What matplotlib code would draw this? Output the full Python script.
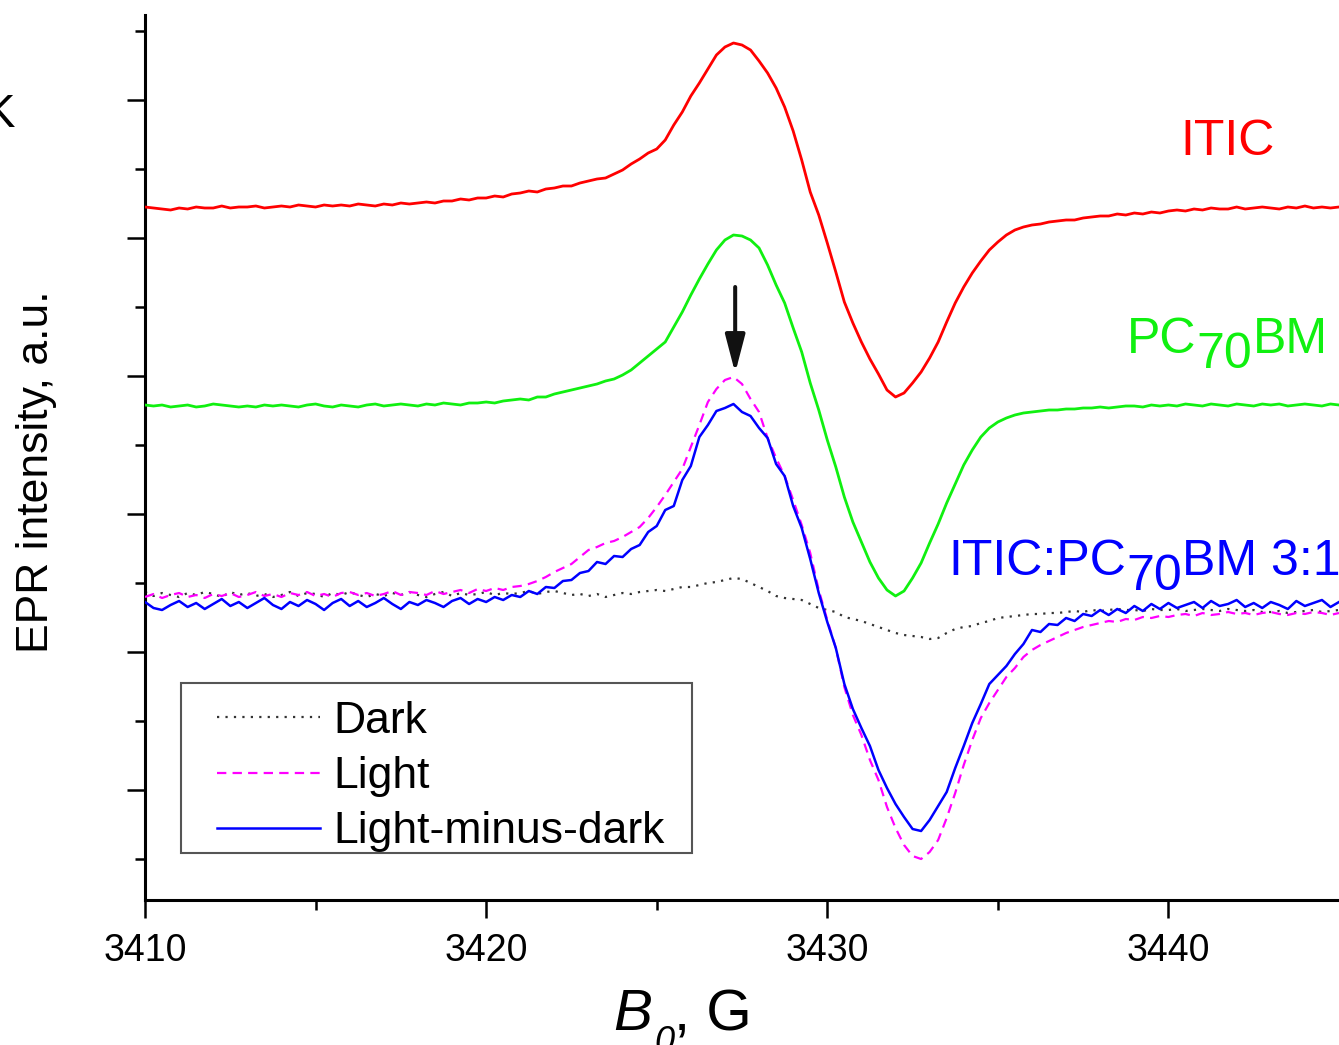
import numpy as np
import matplotlib
matplotlib.use("Agg")
import matplotlib.pyplot as plt
from matplotlib.ticker import FixedLocator, NullFormatter
from matplotlib.patches import Rectangle

plt.rcParams['font.family'] = ['Liberation Sans', 'DejaVu Sans']

# ---------------- data (field sweep, 0.25 G steps) ----------------
field = np.linspace(3410, 3445, 141)   # B0, G

itic = [
    721, 720, 719, 718,   # 3410
    720, 719, 721, 720,   # 3411
    720, 722, 720, 721,   # 3412
    721, 722, 720, 721,   # 3413
    722, 721, 723, 722,   # 3414
    721, 723, 722, 723,   # 3415
    722, 724, 723, 722,   # 3416
    724, 723, 725, 724,   # 3417
    725, 726, 725, 727,   # 3418
    727, 729, 728, 730,   # 3419
    730, 732, 731, 734,   # 3420
    735, 737, 736, 739,   # 3421
    740, 742, 742, 745,   # 3422
    747, 749, 750, 754,   # 3423
    758, 764, 769, 775,   # 3424
    779, 788, 803, 816,   # 3425
    832, 845, 859, 873,   # 3426
    881, 885, 883, 878,   # 3427
    867, 855, 840, 821,   # 3428
    797, 768, 736, 713,   # 3429
    685, 656, 626, 605,   # 3430
    586, 569, 554, 538,   # 3431
    531, 535, 545, 556,   # 3432
    570, 586, 606, 625,   # 3433
    641, 655, 667, 678,   # 3434
    686, 693, 698, 701,   # 3435
    703, 704, 706, 707,   # 3436
    708, 708, 710, 711,   # 3437
    712, 712, 714, 713,   # 3438
    715, 714, 716, 715,   # 3439
    717, 718, 717, 719,   # 3440
    718, 720, 719, 719,   # 3441
    721, 719, 720, 721,   # 3442
    720, 719, 721, 720,   # 3443
    722, 720, 721, 720,   # 3444
    721,                  # 3445
]

pc70bm = [
    523, 522, 523, 521,   # 3410
    522, 523, 521, 522,   # 3411
    524, 523, 522, 521,   # 3412
    522, 521, 523, 522,   # 3413
    523, 522, 521, 523,   # 3414
    524, 522, 521, 523,   # 3415
    522, 521, 523, 524,   # 3416
    522, 523, 524, 523,   # 3417
    522, 524, 523, 525,   # 3418
    524, 523, 525, 525,   # 3419
    526, 525, 527, 528,   # 3420
    529, 528, 531, 531,   # 3421
    534, 536, 538, 540,   # 3422
    542, 544, 547, 549,   # 3423
    553, 558, 565, 572,   # 3424
    579, 586, 601, 616,   # 3425
    633, 649, 664, 678,   # 3426
    688, 693, 692, 688,   # 3427
    680, 663, 643, 625,   # 3428
    600, 576, 545, 518,   # 3429
    488, 461, 431, 406,   # 3430
    386, 366, 350, 338,   # 3431
    332, 337, 350, 365,   # 3432
    385, 404, 425, 444,   # 3433
    463, 478, 491, 500,   # 3434
    506, 510, 513, 515,   # 3435
    516, 517, 518, 518,   # 3436
    519, 519, 520, 520,   # 3437
    521, 520, 521, 522,   # 3438
    522, 521, 523, 522,   # 3439
    523, 522, 524, 523,   # 3440
    522, 524, 523, 522,   # 3441
    524, 523, 522, 524,   # 3442
    523, 524, 522, 523,   # 3443
    524, 523, 522, 524,   # 3444
    523,                  # 3445
]

blend_dark = [
    336, 332, 335, 333,   # 3410
    331, 335, 333, 336,   # 3411
    334, 331, 336, 333,   # 3412
    335, 332, 334, 331,   # 3413
    333, 336, 332, 335,   # 3414
    334, 331, 335, 333,   # 3415
    336, 333, 331, 334,   # 3416
    332, 335, 333, 336,   # 3417
    333, 331, 334, 336,   # 3418
    332, 335, 333, 334,   # 3419
    336, 333, 335, 334,   # 3420
    335, 337, 334, 336,   # 3421
    337, 335, 333, 334,   # 3422
    332, 334, 331, 333,   # 3423
    335, 334, 336, 337,   # 3424
    338, 337, 339, 341,   # 3425
    341, 343, 345, 346,   # 3426
    348, 350, 349, 345,   # 3427
    341, 337, 332, 330,   # 3428
    329, 328, 324, 320,   # 3429
    318, 316, 311, 309,   # 3430
    307, 304, 301, 298,   # 3431
    295, 293, 292, 291,   # 3432
    289, 290, 295, 299,   # 3433
    301, 302, 305, 307,   # 3434
    310, 311, 312, 313,   # 3435
    314, 314, 315, 315,   # 3436
    316, 317, 316, 318,   # 3437
    317, 318, 319, 318,   # 3438
    318, 317, 319, 318,   # 3439
    318, 319, 317, 318,   # 3440
    319, 318, 317, 319,   # 3441
    318, 317, 318, 316,   # 3442
    316, 317, 315, 316,   # 3443
    317, 318, 316, 317,   # 3444
    318,                  # 3445
]

blend_light = [
    331, 334, 330, 333,   # 3410
    335, 331, 333, 330,   # 3411
    334, 332, 335, 331,   # 3412
    333, 336, 332, 334,   # 3413
    331, 335, 333, 336,   # 3414
    332, 334, 331, 335,   # 3415
    336, 333, 335, 332,   # 3416
    334, 337, 333, 336,   # 3417
    335, 333, 337, 334,   # 3418
    336, 338, 335, 339,   # 3419
    337, 340, 338, 341,   # 3420
    342, 344, 347, 351,   # 3421
    356, 360, 364, 371,   # 3422
    378, 381, 385, 387,   # 3423
    391, 396, 401, 410,   # 3424
    421, 433, 446, 459,   # 3425
    481, 503, 526, 539,   # 3426
    548, 551, 544, 529,   # 3427
    516, 490, 470, 452,   # 3428
    428, 403, 375, 338,   # 3429
    308, 280, 241, 213,   # 3430
    193, 168, 148, 121,   # 3431
    100, 83, 72, 69,      # 3432
    76, 88, 110, 135,     # 3433
    163, 188, 210, 225,   # 3434
    238, 251, 260, 271,   # 3435
    278, 283, 287, 291,   # 3436
    295, 298, 301, 303,   # 3437
    305, 307, 306, 309,   # 3438
    308, 311, 310, 312,   # 3439
    311, 313, 314, 312,   # 3440
    315, 313, 314, 316,   # 3441
    314, 315, 313, 315,   # 3442
    316, 314, 313, 315,   # 3443
    314, 316, 315, 313,   # 3444
    315,                  # 3445
]

blend_diff = [
    326, 320, 318, 323,   # 3410
    327, 321, 325, 319,   # 3411
    324, 329, 322, 326,   # 3412
    320, 325, 330, 323,   # 3413
    319, 326, 322, 328,   # 3414
    324, 318, 325, 329,   # 3415
    322, 327, 321, 325,   # 3416
    330, 324, 319, 326,   # 3417
    323, 328, 325, 321,   # 3418
    327, 330, 324, 329,   # 3419
    326, 331, 328, 333,   # 3420
    331, 337, 334, 341,   # 3421
    340, 347, 348, 355,   # 3422
    357, 366, 364, 372,   # 3423
    371, 379, 383, 396,   # 3424
    402, 418, 422, 448,   # 3425
    462, 491, 503, 517,   # 3426
    520, 524, 516, 512,   # 3427
    500, 490, 464, 452,   # 3428
    422, 400, 369, 335,   # 3429
    306, 280, 244, 219,   # 3430
    200, 182, 158, 140,   # 3431
    124, 111, 99, 97,     # 3432
    108, 122, 136, 160,   # 3433
    182, 205, 224, 244,   # 3434
    253, 262, 274, 284,   # 3435
    298, 296, 304, 303,   # 3436
    310, 307, 314, 312,   # 3437
    318, 313, 319, 315,   # 3438
    322, 317, 324, 319,   # 3439
    325, 320, 323, 326,   # 3440
    320, 327, 322, 324,   # 3441
    328, 321, 325, 320,   # 3442
    326, 323, 319, 327,   # 3443
    322, 325, 328, 321,   # 3444
    326,                  # 3445
]

x_major = [3410, 3420, 3430, 3440]
x_minor = [3415, 3425, 3435]
y_major = [138, 276, 414, 552, 690, 828]
y_minor = [69, 207, 345, 483, 621, 759, 897]

legend_labels = ["Dark", "Light", "Light-minus-dark"]
arrow_field, arrow_from, arrow_to = 3427.3, 641, 555

RED, GREEN, BLUE, MAGENTA = '#ff0000', '#10f010', '#0000ff', '#ff00ff'

# ---------------- figure ----------------
W, H = 1339, 1045
fig = plt.figure(figsize=(W / 100, H / 100), dpi=100)
ax = fig.add_axes([145 / W, 1 - 900 / H, 1 - 145 / W, (900 - 15) / H])

l_dark, = ax.plot(field, blend_dark, color='#333333', lw=1.6,
                  linestyle=(0, (1.0, 2.8)), zorder=2)
l_light, = ax.plot(field, blend_light, color=MAGENTA, lw=1.6,
                   linestyle=(0, (4.2, 2.8)), zorder=3)
l_diff, = ax.plot(field, blend_diff, color=BLUE, lw=1.8, zorder=4)
ax.plot(field, itic, color=RED, lw=2.0, zorder=4)
ax.plot(field, pc70bm, color=GREEN, lw=2.0, zorder=4)

ax.set_xlim(3410, 3445)
ax.set_ylim(28, 913)

for s in ['top', 'right']:
    ax.spines[s].set_visible(False)
for s in ['left', 'bottom']:
    ax.spines[s].set_linewidth(2.2)

ax.xaxis.set_major_locator(FixedLocator(x_major))
ax.xaxis.set_minor_locator(FixedLocator(x_minor))
ax.yaxis.set_major_locator(FixedLocator(y_major))
ax.yaxis.set_minor_locator(FixedLocator(y_minor))
ax.yaxis.set_major_formatter(NullFormatter())
ax.tick_params(which='major', direction='out', length=13, width=1.8,
               labelsize=27, pad=11)
ax.tick_params(which='minor', direction='out', length=7, width=1.8)

ax.set_ylabel('EPR intensity, a.u.', fontsize=32, va='center')
ax.yaxis.set_label_coords(-0.0909, 0.4836)

# x-axis label  "B0, G"  (italic B with a low italic subscript 0)
xl1 = ax.text((613 - 145) / 1194, (900 - 1030) / 885, 'B', style='italic',
              fontsize=42, ha='left', va='baseline', transform=ax.transAxes,
              clip_on=False)
xl2 = ax.annotate('0', xy=(1, 0), xycoords=xl1, xytext=(1.5, 12.0),
                  textcoords='offset points', style='italic', fontsize=26,
                  ha='left', va='top', annotation_clip=False)
xl3 = ax.annotate(', G', xy=(1, 0), xycoords=(xl2, xl1), xytext=(0, 0),
                  textcoords='offset points', fontsize=42, ha='left',
                  va='bottom', annotation_clip=False)

# arrow marking the peak
ax.annotate('', xy=(arrow_field, arrow_to), xytext=(arrow_field, arrow_from),
            arrowprops=dict(arrowstyle='-|>,head_length=2.3,head_width=0.6',
                            lw=2.9, color='#111111', mutation_scale=10,
                            shrinkA=0, shrinkB=0), zorder=6)


def label(x, y, parts, color, size=36):
    t = ax.text(x, y, parts[0][0], color=color, fontsize=size,
                ha='left', va='baseline', zorder=7)
    for s, dy in parts[1:]:
        t = ax.annotate(s, xy=(1, 0), xycoords=t, xytext=(0, dy),
                        textcoords='offset points', color=color,
                        fontsize=size, ha='left', va='bottom', zorder=7)


label(3440.34, 773, [("ITIC", 0)], RED)
label(3438.79, 575, [("PC", 0), ("70", -10.8), ("BM", 10.8)], GREEN)
label(3433.54, 353, [("ITIC:PC", 0), ("70", -10.8), ("BM 3:1", 10.8)], BLUE)

leg = ax.legend([l_dark, l_light, l_diff], legend_labels,
                loc='upper left', bbox_to_anchor=(217 / W, 1 - 701 / H),
                bbox_transform=fig.transFigure, fontsize=32, frameon=False,
                borderaxespad=0, borderpad=0, handlelength=2.32,
                handletextpad=0.3, labelspacing=0.32)
leg.set_zorder(8)
fig.add_artist(Rectangle((181 / W, 1 - 853 / H), (692 - 181) / W,
                         (853 - 683) / H, transform=fig.transFigure,
                         fill=False, edgecolor='#555555', linewidth=1.5,
                         zorder=8))

fig.text(-17 / W, 1 - 115 / H, 'K', fontsize=34, ha='left', va='center')

fig.savefig('out.png', dpi=100)
